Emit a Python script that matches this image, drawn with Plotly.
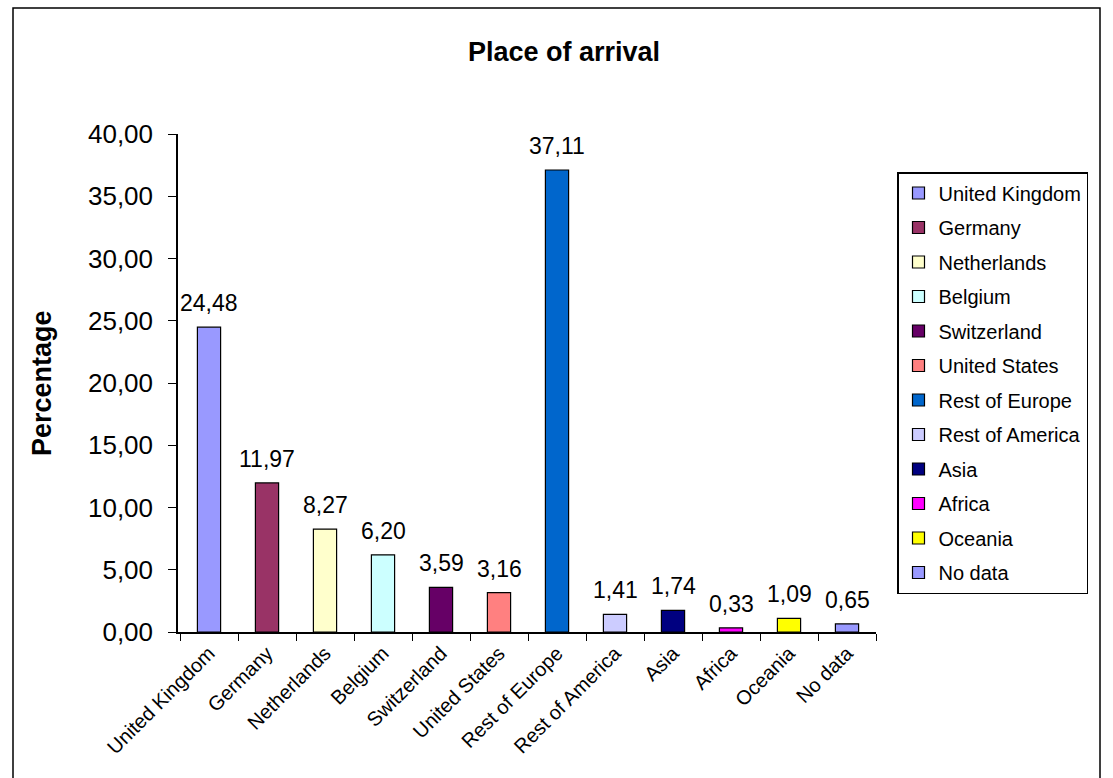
import plotly.graph_objects as go

categories = ["United Kingdom", "Germany", "Netherlands", "Belgium", "Switzerland",
              "United States", "Rest of Europe", "Rest of America", "Asia", "Africa",
              "Oceania", "No data"]
values = [24.48, 11.97, 8.27, 6.20, 3.59, 3.16, 37.11, 1.41, 1.74, 0.33, 1.09, 0.65]
colors = ["#9999FF", "#993366", "#FFFFCC", "#CCFFFF", "#660066", "#FF8080",
          "#0066CC", "#CCCCFF", "#000080", "#FF00FF", "#FFFF00", "#9999FF"]
y_ticks = [0, 5, 10, 15, 20, 25, 30, 35, 40]

FONT = "Liberation Sans, Arial, sans-serif"

fig = go.Figure()
for i, (c, v, col) in enumerate(zip(categories, values, colors)):
    fig.add_trace(go.Bar(
        x=[c], y=[v], name=c, width=0.4, legendgroup=f"g{i}",
        marker=dict(color=col, line=dict(color="black", width=1.2)),
        hoverinfo="x+y",
    ))
    fig.add_annotation(x=c, y=v, text=f"{v:.2f}".replace(".", ","),
                       showarrow=False, yanchor="bottom", yshift=9,
                       font=dict(size=23, color="black", family=FONT))

fig.update_layout(
    width=1113, height=778,
    barmode="overlay",
    separators=",.",
    plot_bgcolor="white", paper_bgcolor="white",
    font=dict(family=FONT, color="black"),
    margin=dict(l=178, r=237, t=134, b=146),
    title=dict(text="<b>Place of arrival</b>", x=564/1113, xanchor="center",
               y=1-52/778, yanchor="middle", yref="container",
               font=dict(size=27, family=FONT, color="black")),
    legend=dict(x=(897-178)/698, y=(632-172)/498, xanchor="left", yanchor="top",
                bordercolor="black", borderwidth=1.5, bgcolor="white",
                font=dict(size=20, family=FONT, color="black"),
                traceorder="grouped", tracegroupgap=5.5),
    showlegend=True,
)
fig.update_xaxes(showline=True, linecolor="black", linewidth=1.5, ticks="outside",
                 ticklen=7, tickcolor="black", tickson="boundaries", tickangle=-45,
                 tickfont=dict(size=20, family=FONT, color="black"), showgrid=False)
fig.update_yaxes(range=[0, 40], tickvals=y_ticks, tickformat=".2f", showline=True,
                 linecolor="black", linewidth=1.5, ticks="outside", ticklen=8,
                 tickcolor="black", ticklabelstandoff=10,
                 tickfont=dict(size=26, family=FONT, color="black"),
                 showgrid=False, zeroline=False)
fig.add_annotation(x=(42-178)/698, y=0.5, xref="paper", yref="paper",
                   xanchor="center", yanchor="middle",
                   text="<b>Percentage</b>", textangle=-90, showarrow=False,
                   font=dict(size=27, family=FONT, color="black"))
fig.add_shape(type="rect", xref="paper", yref="paper",
              x0=(13-178)/698, x1=(1100-178)/698, y0=(632-790)/498, y1=(632-8)/498,
              line=dict(color="black", width=1.5), fillcolor="rgba(0,0,0,0)")

fig.write_html("out.html")
